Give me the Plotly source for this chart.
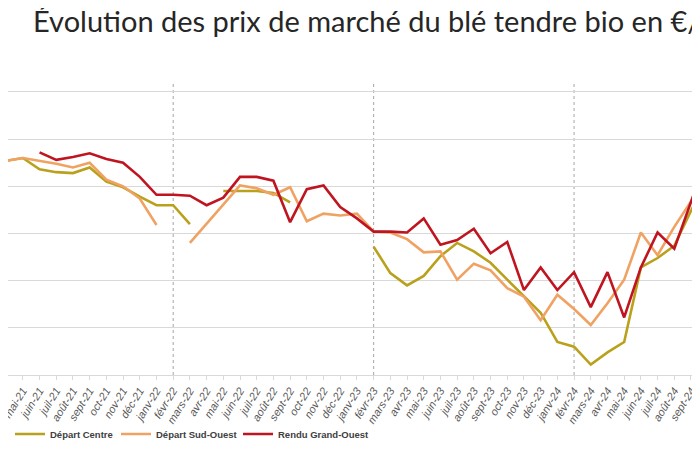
import plotly.graph_objects as go

months = ["janv", "févr", "mars", "avr", "mai", "juin", "juil", "août", "sept", "oct", "nov", "déc"]
categories = [f"{m}-{y}" for y in ["21", "22", "23", "24"] for m in months][:46]  # janv-21 .. oct-24

N = None
# Départ Centre (€/t), index 0 = janv-21
depart_centre = [N, N, 473, 477, 480, 468, 465, 464, 470, 455, 449, 439,
                 430, 430, 410, N, 445, 445, 445, 443, 433, N, N, N,
                 N, 386, 358, 345, 355, 376, 390, 381, 369, 351, 334, 316,
                 285, 280, 261, 274, 285, 364, 374, 387, 424, 459]
# Départ Sud-Ouest
depart_sud_ouest = [N, N, 473, 477, 480, 477, 474, 470, 475, 457, 450, 437,
                    409, N, 390, 410, 431, 451, 448, 441, 449, 413, 421, 419,
                    421, 402, 401, 394, 380, 381, 351, 368, 361, 342, 333, 308,
                    335, 320, 303, 326, 351, 401, 377, 407, 434, 463]
# Rendu Grand-Ouest
rendu_grand_ouest = [N, N, N, N, N, 486, 478, 481, 485, 479, 475, 460,
                     441, 441, 440, 430, 438, 460, 460, 456, 412, 447, 451, 428,
                     416, 402, 402, 401, 416, 388, 393, 405, 379, 391, 340, 364,
                     340, 359, 322, 359, 311, 364, 401, 384, 433, 483]

series = [
    ("Départ Centre", depart_centre, "#B9A11C", "legend"),
    ("Départ Sud-Ouest", depart_sud_ouest, "#F0A263", "legend2"),
    ("Rendu Grand-Ouest", rendu_grand_ouest, "#BF1520", "legend3"),
]
campaign_marks = ["févr-22", "févr-23", "févr-24"]

W, H = 692, 442  # page body adds an 8 px offset

fig = go.Figure()
for name, vals, col, leg in series:
    fig.add_trace(go.Scatter(x=categories, y=vals, name=name, mode="lines", legend=leg,
                             line=dict(color=col, width=2.6), connectgaps=False))

for c in campaign_marks:
    fig.add_shape(type="line", xref="x", yref="paper", x0=c, x1=c, y0=0, y1=1,
                  line=dict(color="#A6A6A6", width=1, dash="dot"), layer="below")

legend_font = dict(family="Liberation Sans Narrow, Liberation Sans", size=9.5,
                   color="#404040", weight="bold")
def legend_at(x_px):
    return dict(orientation="h", xref="container", yref="container",
                x=x_px/W, y=1-426/H, xanchor="left", yanchor="middle",
                itemwidth=30, font=legend_font, bgcolor="rgba(0,0,0,0)")

fig.update_layout(
    width=W, height=H,
    margin=dict(l=0, r=0, t=75, b=75, autoexpand=False),
    paper_bgcolor="white", plot_bgcolor="white",
    title=dict(text="Évolution des prix de marché du blé tendre bio en €/t",
               x=25/W, xanchor="left", xref="container",
               y=1-14/H, yanchor="middle", yref="container",
               font=dict(family="Lato", size=29, color="#262626")),
    xaxis=dict(type="category", categoryorder="array", categoryarray=categories,
               range=[3.11, 44.54], tickmode="array", tickvals=categories, ticktext=categories,
               tickangle=-58, automargin=False,
               tickfont=dict(family="Liberation Sans", size=11, color="#595959", style="italic"),
               showgrid=False, showline=True, linecolor="#D9D9D9", linewidth=1,
               ticks="outside", ticklen=4, tickcolor="#D9D9D9"),
    yaxis=dict(range=[250, 559.5], tick0=250, dtick=50, showticklabels=False, automargin=False,
               showgrid=True, gridcolor="#D9D9D9", gridwidth=1, zeroline=False, showline=False),
    legend=legend_at(2),
    legend2=legend_at(108),
    legend3=legend_at(230),
    showlegend=True,
)

fig.write_html("out.html")
